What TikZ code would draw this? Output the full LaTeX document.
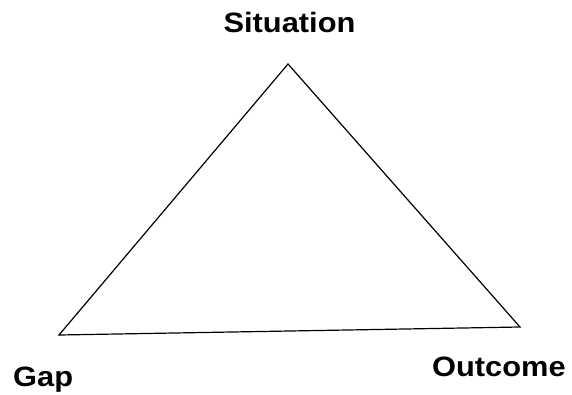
\documentclass[tikz,border=0pt]{standalone}
\usepackage{fontspec}
\newfontfamily\labfont[FakeStretch=1.1]{Liberation Sans}
\begin{document}
\begin{tikzpicture}[x=1pt,y=-1pt,
  lab/.style={inner sep=0pt,font=\labfont\bfseries\fontsize{28}{28}\selectfont},
  edge/.style={line width=1.2pt,line join=miter}]
\useasboundingbox[fill=white] (0,0) rectangle (572,394);
\coordinate (top) at (288,64);
\coordinate (left) at (59,335);
\coordinate (right) at (520,327);
\draw[edge] (top) -- (left) -- (right) -- cycle;
\node[lab,anchor=base] (sit) at (289.5,32) {Situation};
\node[lab,anchor=base west] (gap) at (13,386) {Gap};
\node[lab,anchor=base west] (out) at (432,376) {Outcome};
\end{tikzpicture}
\end{document}
